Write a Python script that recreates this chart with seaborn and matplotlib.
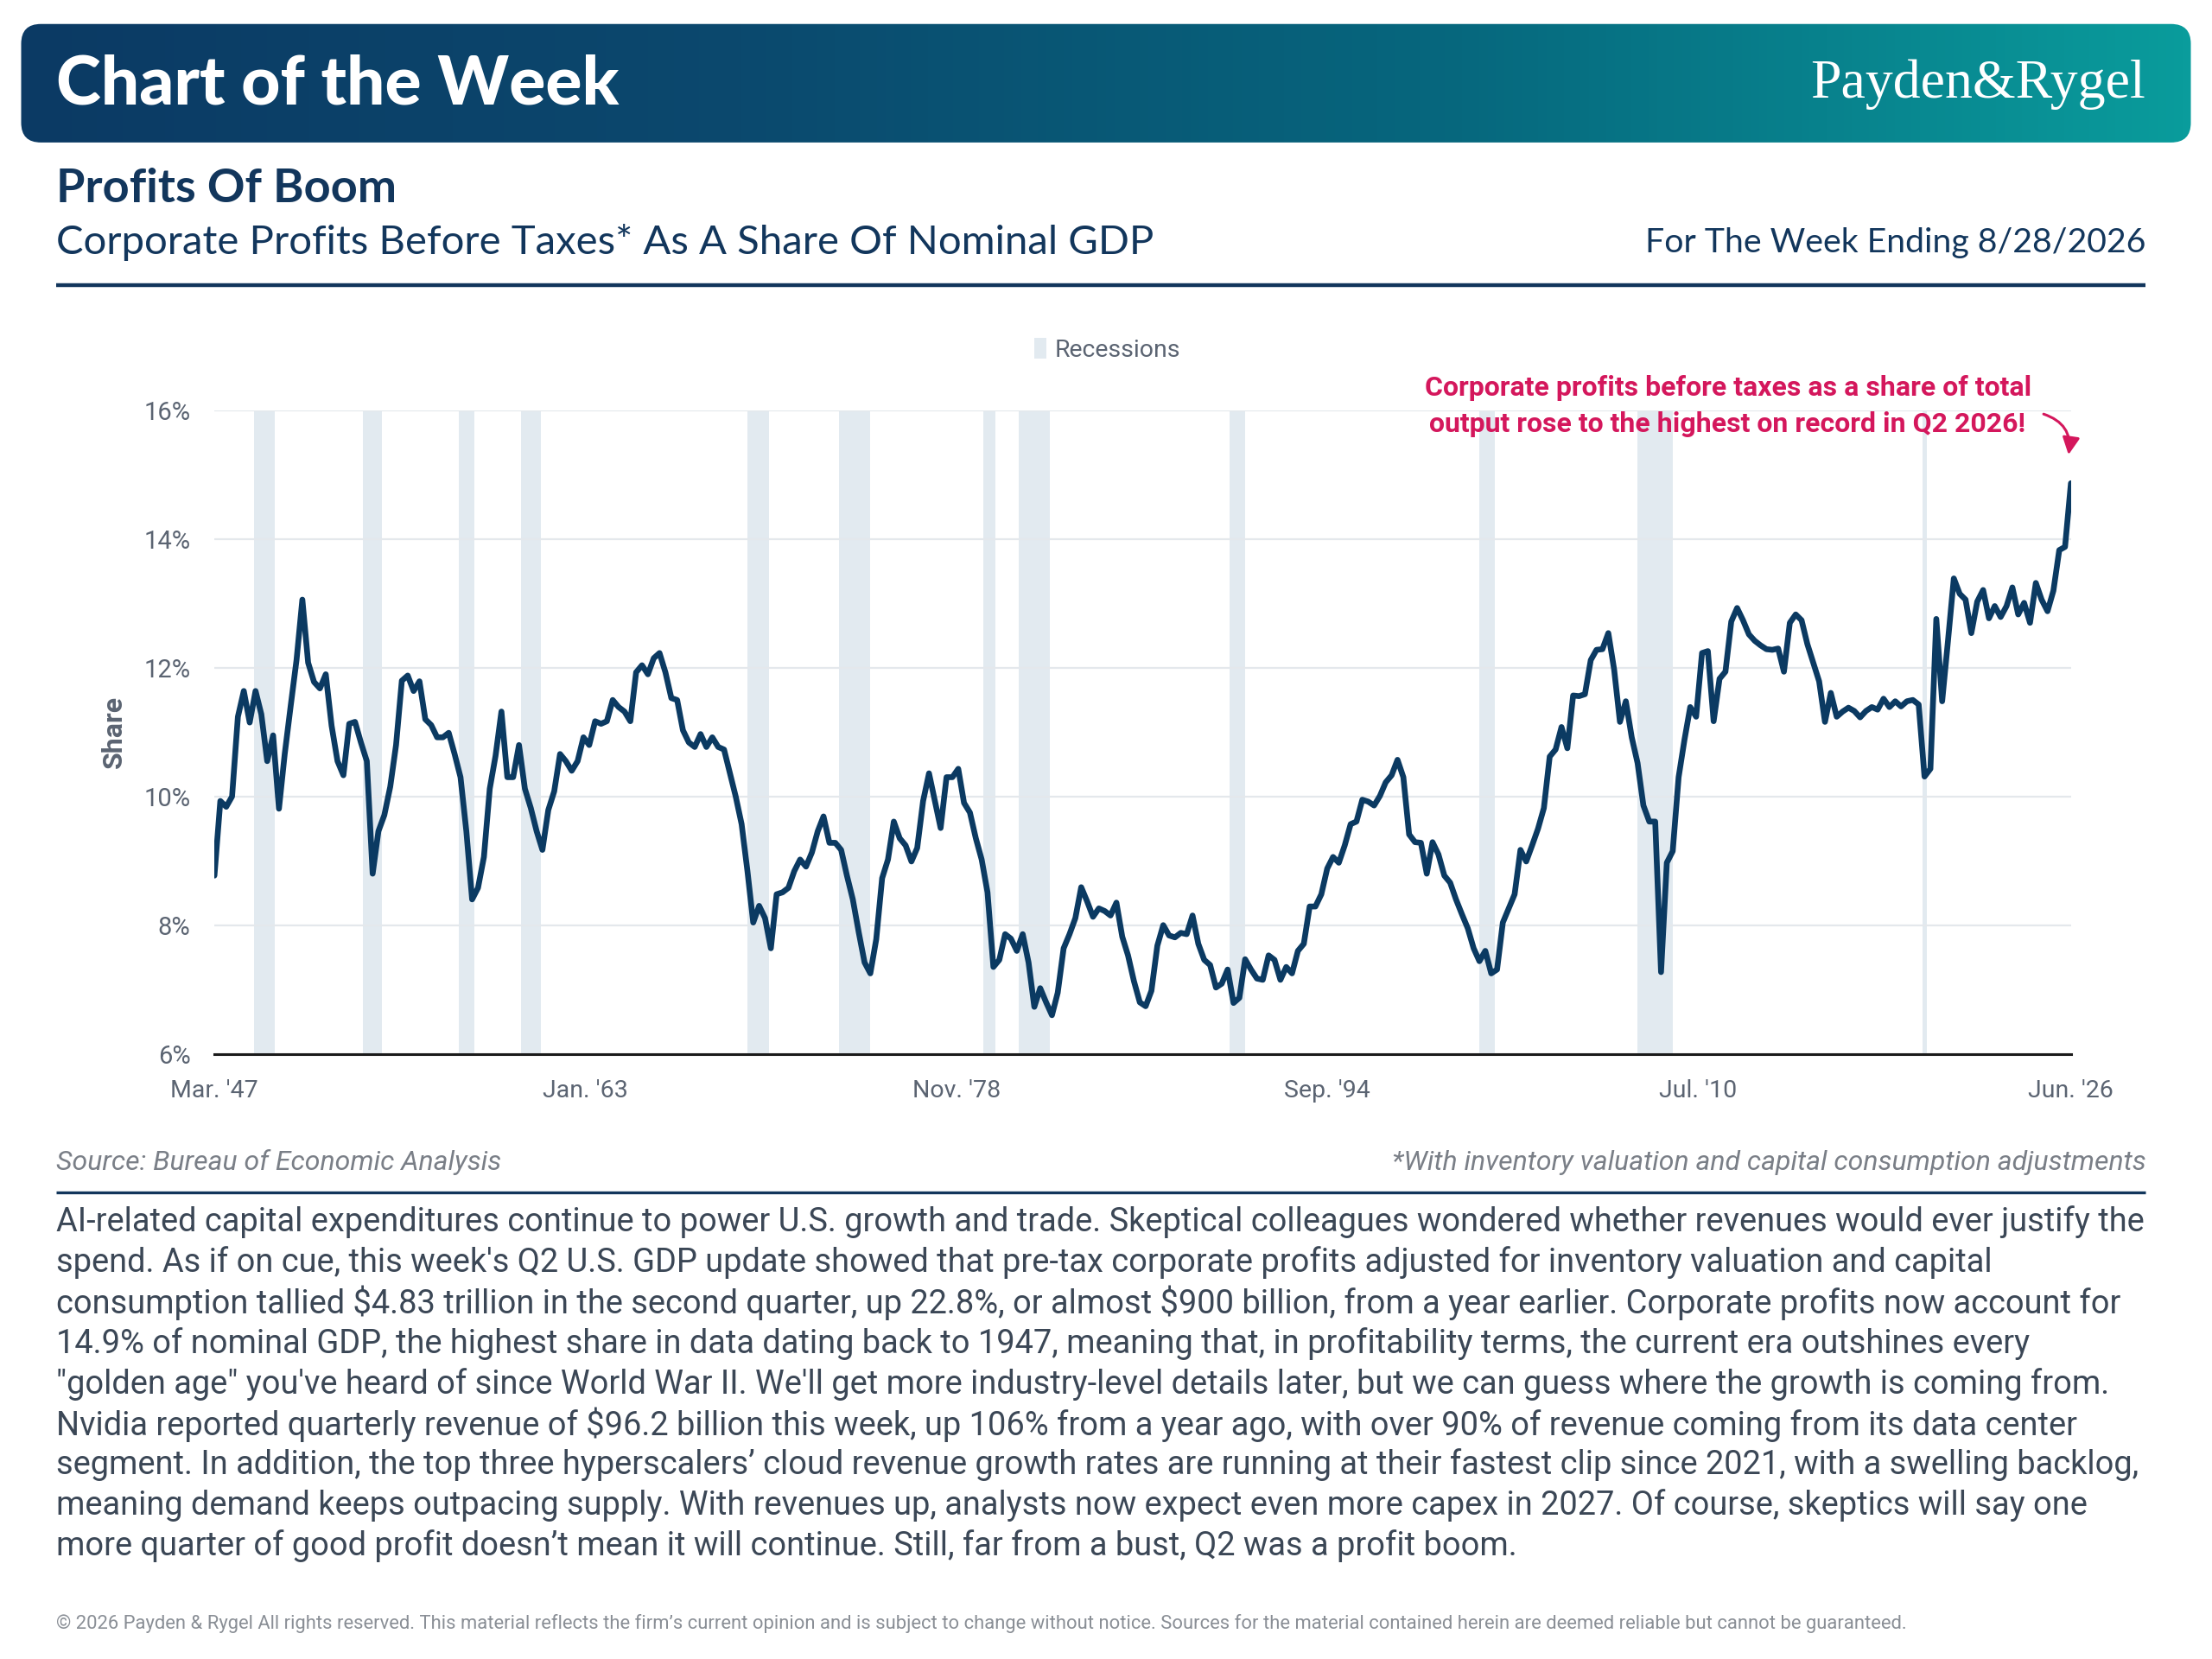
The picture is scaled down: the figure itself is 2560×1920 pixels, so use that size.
import numpy as np
import pandas as pd
import matplotlib
matplotlib.use("Agg")
import matplotlib.pyplot as plt
from matplotlib.patches import FancyBboxPatch, Patch, FancyArrowPatch
from matplotlib.colors import LinearSegmentedColormap
import seaborn as sns

# quarterly share of corporate profits (IVA & CCAdj) in nominal GDP, %, Q1 1947 .. Q2 2026
share_1947_1956 = [8.77, 9.93, 9.84, 10.0, 11.24, 11.64, 11.15, 11.64, 11.28, 10.55,
                   10.95, 9.81, 10.66, 11.4, 12.12, 13.06, 12.08, 11.78, 11.68, 11.9,
                   11.1, 10.55, 10.33, 11.13, 11.16, 10.84, 10.55, 8.8, 9.46, 9.71,
                   10.15, 10.8, 11.8, 11.88, 11.64, 11.79, 11.2, 11.11, 10.92, 10.92]
share_1957_1966 = [10.99, 10.66, 10.3, 9.46, 8.4, 8.58, 9.06, 10.12, 10.63, 11.32,
                   10.3, 10.3, 10.8, 10.12, 9.82, 9.46, 9.17, 9.79, 10.08, 10.66,
                   10.55, 10.4, 10.55, 10.92, 10.8, 11.17, 11.13, 11.17, 11.5, 11.39,
                   11.32, 11.17, 11.93, 12.04, 11.9, 12.15, 12.23, 11.93, 11.53, 11.5]
share_1967_1976 = [11.03, 10.84, 10.77, 10.97, 10.77, 10.92, 10.77, 10.73, 10.37, 10.0,
                   9.57, 8.84, 8.04, 8.3, 8.11, 7.64, 8.48, 8.51, 8.58, 8.84,
                   9.02, 8.91, 9.13, 9.46, 9.69, 9.28, 9.28, 9.17, 8.77, 8.4,
                   7.89, 7.42, 7.25, 7.78, 8.73, 9.02, 9.61, 9.35, 9.24, 8.99]
share_1977_1986 = [9.2, 9.93, 10.36, 9.93, 9.51, 10.3, 10.3, 10.43, 9.9, 9.75,
                   9.35, 9.02, 8.51, 7.35, 7.46, 7.86, 7.79, 7.6, 7.86, 7.42,
                   6.73, 7.02, 6.8, 6.6, 6.95, 7.64, 7.86, 8.11, 8.59, 8.37,
                   8.13, 8.26, 8.22, 8.15, 8.35, 7.82, 7.53, 7.13, 6.8, 6.74]
share_1987_1996 = [6.98, 7.68, 8.0, 7.84, 7.81, 7.88, 7.86, 8.15, 7.71, 7.46,
                   7.38, 7.03, 7.09, 7.31, 6.79, 6.87, 7.47, 7.31, 7.17, 7.15,
                   7.53, 7.46, 7.15, 7.35, 7.25, 7.6, 7.71, 8.29, 8.29, 8.48,
                   8.88, 9.06, 8.97, 9.24, 9.57, 9.61, 9.95, 9.92, 9.86, 10.01]
share_1997_2006 = [10.22, 10.33, 10.57, 10.3, 9.41, 9.29, 9.28, 8.8, 9.29, 9.1,
                   8.77, 8.66, 8.4, 8.17, 7.95, 7.64, 7.44, 7.6, 7.25, 7.31,
                   8.04, 8.26, 8.48, 9.17, 8.99, 9.24, 9.5, 9.82, 10.62, 10.73,
                   11.08, 10.75, 11.57, 11.56, 11.59, 12.12, 12.28, 12.29, 12.54, 11.97]
share_2007_2016 = [11.16, 11.48, 10.92, 10.52, 9.86, 9.61, 9.61, 7.27, 8.97, 9.15,
                   10.3, 10.88, 11.39, 11.24, 12.23, 12.26, 11.17, 11.83, 11.94, 12.72,
                   12.93, 12.74, 12.52, 12.42, 12.35, 12.29, 12.28, 12.3, 11.94, 12.7,
                   12.83, 12.74, 12.37, 12.08, 11.79, 11.16, 11.61, 11.24, 11.32, 11.38]
share_2017_2026 = [11.33, 11.23, 11.33, 11.39, 11.35, 11.52, 11.39, 11.48, 11.4, 11.48,
                   11.5, 11.43, 10.31, 10.43, 12.76, 11.48, 12.41, 13.39, 13.15, 13.06,
                   12.54, 13.03, 13.21, 12.77, 12.96, 12.79, 12.96, 13.25, 12.83, 13.01,
                   12.7, 13.32, 13.06, 12.88, 13.2, 13.83, 13.88, 14.87]

share = (share_1947_1956 + share_1957_1966 + share_1967_1976 + share_1977_1986
         + share_1987_1996 + share_1997_2006 + share_2007_2016 + share_2017_2026)
dates = pd.date_range(start="1947-03-01", periods=len(share), freq="3MS")

recession_starts = ["1948-11-01", "1953-07-01", "1957-08-01", "1960-04-01", "1969-12-01", "1973-11-01",
                    "1980-01-01", "1981-07-01", "1990-07-01", "2001-03-01", "2007-12-01", "2020-02-01"]
recession_ends = ["1949-10-01", "1954-05-01", "1958-04-01", "1961-02-01", "1970-11-01", "1975-03-01",
                  "1980-07-01", "1982-11-01", "1991-03-01", "2001-11-01", "2009-06-01", "2020-04-01"]

tick_dates = ["1947-03-01", "1963-01-01", "1978-11-01", "1994-09-01", "2010-07-01", "2026-06-01"]
tick_labels = ["Mar. '47", "Jan. '63", "Nov. '78", "Sep. '94", "Jul. '10", "Jun. '26"]
y_ticks = [6, 8, 10, 12, 14, 16]

body_lines = [
    "AI-related capital expenditures continue to power U.S. growth and trade. Skeptical colleagues wondered whether revenues would ever justify the",
    "spend. As if on cue, this week's Q2 U.S. GDP update showed that pre-tax corporate profits adjusted for inventory valuation and capital",
    "consumption tallied $4.83 trillion in the second quarter, up 22.8%, or almost $900 billion, from a year earlier. Corporate profits now account for",
    "14.9% of nominal GDP, the highest share in data dating back to 1947, meaning that, in profitability terms, the current era outshines every",
    "\"golden age\" you've heard of since World War II. We'll get more industry-level details later, but we can guess where the growth is coming from.",
    "Nvidia reported quarterly revenue of $96.2 billion this week, up 106% from a year ago, with over 90% of revenue coming from its data center",
    "segment. In addition, the top three hyperscalers\u2019 cloud revenue growth rates are running at their fastest clip since 2021, with a swelling backlog,",
    "meaning demand keeps outpacing supply. With revenues up, analysts now expect even more capex in 2027. Of course, skeptics will say one",
    "more quarter of good profit doesn\u2019t mean it will continue. Still, far from a bust, Q2 was a profit boom.",
]

NAVY = "#0B3A62"
TITLE = "#12365C"
REC = "#E2EAF0"
RED = "#D4175C"
GREY = "#5B6472"
TEXT = "#3B4756"

sns.set_theme(style="white")
plt.rcParams["font.family"] = ["Roboto", "DejaVu Sans"]
plt.rcParams["text.parse_math"] = False

df = pd.DataFrame({"date": dates, "share": share})

fig = plt.figure(figsize=(25.6, 19.2), dpi=100)
fig.patch.set_facecolor("white")

# chart
ax = fig.add_axes([152 / 1568, 1 - 747 / 1176, 1316 / 1568, 456 / 1176])
ax.patch.set_alpha(0)

for s, e in zip(recession_starts, recession_ends):
    ax.axvspan(pd.Timestamp(s), pd.Timestamp(e), color=REC, lw=0, zorder=0)

sns.lineplot(data=df, x="date", y="share", ax=ax, color=NAVY, linewidth=4.8, zorder=3)

ax.set_xlim(dates[0], dates[-1])
ax.set_ylim(6, 16)
ax.set_yticks(y_ticks)
ax.set_yticklabels([f"{v}%" for v in y_ticks])
ax.set_xticks(pd.to_datetime(tick_dates))
ax.set_xticklabels(tick_labels)
ax.grid(axis="y", color="#E4E8EC", lw=1.6, zorder=1)
ax.grid(axis="x", visible=False)
for side in ["top", "right", "left"]:
    ax.spines[side].set_visible(False)
ax.spines["bottom"].set_color("#1A1A1A")
ax.spines["bottom"].set_linewidth(2.2)
ax.spines["bottom"].set_zorder(4)
ax.tick_params(axis="x", length=9, width=1.8, color="#1A1A1A", pad=12, labelsize=20.5, labelcolor=GREY)
ax.tick_params(axis="y", length=0, pad=20, labelsize=21, labelcolor=GREY)
ax.set_xlabel("")
ax.set_ylabel("Share", fontsize=23, fontweight="bold", color=GREY)
ax.yaxis.set_label_coords(-0.047, 0.5)

ax.legend(handles=[Patch(facecolor=REC, edgecolor="none", label="Recessions")],
          loc="center", bbox_to_anchor=(785 / 1568, 1 - 248 / 1176), bbox_transform=fig.transFigure,
          frameon=False, fontsize=20.5, handlelength=0.5, handleheight=0.9, handletextpad=0.35,
          labelcolor=GREY)

# page furniture drawn in reference pixel space, on top of the chart
bg = fig.add_axes([0, 0, 1, 1])
bg.axis("off")
bg.set_zorder(5)

band = FancyBboxPatch((15, 17), 1538, 84, boxstyle="round,pad=0,rounding_size=14",
                      facecolor="none", edgecolor="none")
bg.add_patch(band)
cmap = LinearSegmentedColormap.from_list("hdr", ["#0C3A64", "#0B496E", "#06687E", "#0A9C9C"])
im = bg.imshow(np.linspace(0, 1, 512).reshape(1, -1), extent=(15, 1553, 101, 17),
               aspect="auto", cmap=cmap, zorder=1)
im.set_clip_path(band)
bg.set_xlim(0, 1568)
bg.set_ylim(1176, 0)

bg.text(40, 60, "Chart of the Week", color="white", fontsize=56.5, fontweight="black",
        family="Lato", va="center", ha="left", zorder=2)
bg.text(1521, 60, "Payden&Rygel", color="white", fontsize=46, family="Liberation Serif",
        va="center", ha="right", zorder=2)

bg.text(40, 134, "Profits Of Boom", color=TITLE, fontsize=39, fontweight="bold",
        family="Lato", va="center", ha="left")
bg.text(40, 172, "Corporate Profits Before Taxes* As A Share Of Nominal GDP", color=TITLE,
        fontsize=34, family="Lato", va="center", ha="left")
bg.text(1521, 172, "For The Week Ending 8/28/2026", color=TITLE,
        fontsize=28.3, family="Lato", va="center", ha="right")
bg.plot([40, 1521], [202, 202], color=TITLE, lw=3.2, solid_capstyle="butt")

bg.text(40, 824, "Source: Bureau of Economic Analysis", color="#7A7F87", fontsize=23,
        style="italic", va="center", ha="left")
bg.text(1521, 824, "*With inventory valuation and capital consumption adjustments", color="#7A7F87",
        fontsize=23, style="italic", va="center", ha="right")
bg.plot([40, 1521], [845, 845], color=TITLE, lw=2.4, solid_capstyle="butt")

for i, line in enumerate(body_lines):
    bg.text(40, 866 + i * 28.75, line, color=TEXT, fontsize=27.4, va="center", ha="left")

bg.text(40, 1151, "\u00a9 2026 Payden & Rygel All rights reserved. This material reflects the firm\u2019s current opinion "
        "and is subject to change without notice. Sources for the material contained herein are deemed reliable "
        "but cannot be guaranteed.", color="#8A8F96", fontsize=15.8, va="center", ha="left")

bg.text(1440, 275, "Corporate profits before taxes as a share of total", color=RED, fontsize=23,
        fontweight="bold", va="center", ha="right", zorder=5)
bg.text(1436, 301, "output rose to the highest on record in Q2 2026!", color=RED, fontsize=23,
        fontweight="bold", va="center", ha="right", zorder=5)
bg.add_patch(FancyArrowPatch((1447, 293), (1466, 324), connectionstyle="arc3,rad=-0.45",
                             arrowstyle="-|>,head_length=12,head_width=6", color=RED, lw=2.2, zorder=5))

fig.savefig("out.png", dpi=100, facecolor="white")
